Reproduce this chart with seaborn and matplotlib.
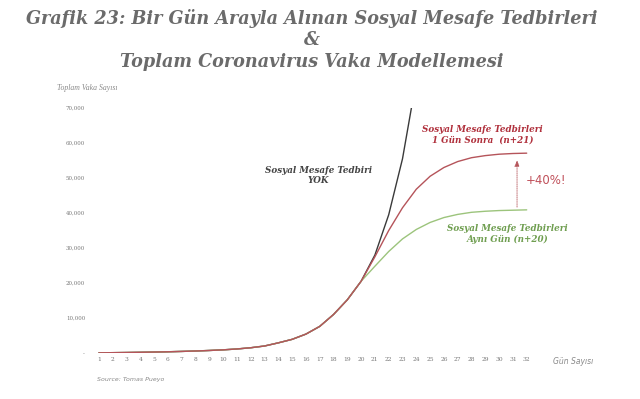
import matplotlib
matplotlib.use("Agg")
import matplotlib.pyplot as plt
import seaborn as sns
import pandas as pd
import numpy as np

# ---- data ----
common = [50, 90, 140, 200, 270, 350, 450, 570, 720, 900,
          1150, 1500, 2000, 2900, 3900, 5400, 7600, 11000, 15200, 20500]
black_tail = [28000, 39500, 55500, 78000]                 # days 21-24 (no measures)
red_tail = [27500, 35000, 41500, 46800, 50500, 53000, 54700, 55800,
            56400, 56800, 57000, 57100]                   # days 21-32 (n+21)
green_tail = [24800, 29000, 32600, 35300, 37300, 38700, 39600, 40200,
              40500, 40700, 40800, 40900]                 # days 21-32 (n+20)

days_black = list(range(1, 25))
days_full = list(range(1, 33))
y_ticks = [0, 10000, 20000, 30000, 40000, 50000, 60000, 70000]
y_ticklabels = ["-", "10,000", "20,000", "30,000", "40,000", "50,000", "60,000", "70,000"]

title1 = "Grafik 23: Bir Gün Arayla Alınan Sosyal Mesafe Tedbirleri"
title2 = "&"
title3 = "Toplam Coronavirus Vaka Modellemesi"

black_df = pd.DataFrame({"gun": days_black, "vaka": common + black_tail})
red_df = pd.DataFrame({"gun": days_full, "vaka": common + red_tail})
green_df = pd.DataFrame({"gun": days_full, "vaka": common + green_tail})

sns.set_theme(style="white")
plt.rcParams["font.family"] = ["DejaVu Sans"]

fig = plt.figure(figsize=(6.4, 3.99), dpi=100)
ax = fig.add_axes([0.1395, 0.1153, 0.6964, 0.6140])

c_black = "#3a3a3a"
c_red = "#b5545a"
c_green = "#9cc47c"

sns.lineplot(data=black_df, x="gun", y="vaka", ax=ax, color=c_black, lw=1.0)
sns.lineplot(data=green_df, x="gun", y="vaka", ax=ax, color=c_green, lw=1.0)
sns.lineplot(data=red_df, x="gun", y="vaka", ax=ax, color=c_red, lw=1.0)

ax.set_xlim(0.3, 32.6)
ax.set_ylim(0, 70000)
ax.set_xticks(days_full)
ax.set_xticklabels([str(d) for d in days_full], fontsize=4.3, color="#777777",
                   family="DejaVu Serif")
ax.set_yticks(y_ticks)
ax.set_yticklabels(y_ticklabels, fontsize=4.0, color="#777777", family="DejaVu Serif")
ax.tick_params(axis="both", length=0, pad=3)
ax.set_xlabel("")
ax.set_ylabel("")
for s in ax.spines.values():
    s.set_visible(False)
ax.axhline(0, color="#cccccc", lw=0.6, ls=(0, (1, 1.5)), zorder=0)

# titles
tkw = dict(ha="center", va="center", color="#6b6b6b", family="DejaVu Serif",
           fontweight="bold", fontstyle="italic", fontsize=12.7)
fig.text(312 / 640, 1 - 18 / 399, title1, **tkw)
fig.text(312 / 640, 1 - 40 / 399, title2, **tkw)
fig.text(312 / 640, 1 - 62 / 399, title3, **tkw)

# axis labels
fig.text(57 / 640, 1 - 88 / 399, "Toplam Vaka Sayısı", ha="left", va="center",
         fontsize=5.6, color="#8a8a8a", family="Liberation Serif", fontstyle="italic")
fig.text(553 / 640, 1 - 362 / 399, "Gün Sayısı", ha="left", va="center",
         fontsize=5.5, color="#8a8a8a", fontstyle="italic")
fig.text(97 / 640, 1 - 380 / 399, "Source: Tomas Pueyo", ha="left", va="center",
         fontsize=4.5, color="#8a8a8a", fontstyle="italic")

# annotations
akw = dict(ha="center", va="center", family="DejaVu Serif", fontweight="bold",
           fontstyle="italic", fontsize=6.3, linespacing=1.15)
ax.text(16.9, 50800, "Sosyal Mesafe Tedbiri\nYOK", color="#444444", **akw)
ax.text(28.8, 62300, "Sosyal Mesafe Tedbirleri\n1 Gün Sonra  (n+21)", color="#b0303c", **akw)
ax.text(30.6, 34000, "Sosyal Mesafe Tedbirleri\nAynı Gün (n+20)", color="#6f9e50", **akw)
ax.text(33.4, 49400, "+40%!", color="#c0505a", fontsize=8.5, ha="center", va="center",
        clip_on=False)
ax.annotate("", xy=(31.3, 55900), xytext=(31.3, 40900),
            arrowprops=dict(arrowstyle="-|>,head_width=0.12,head_length=0.3",
                            color="#b5545a", lw=0.6, ls=(0, (1, 1.2))))

fig.savefig("out.png", dpi=100, facecolor="white")
